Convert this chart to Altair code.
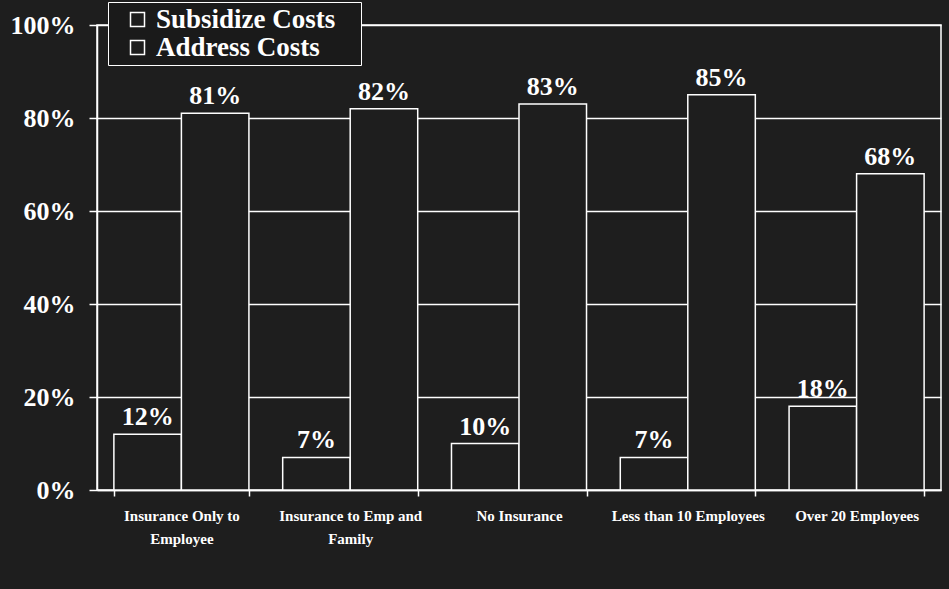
import altair as alt
import pandas as pd

categories = ["Insurance Only to|Employee", "Insurance to Emp and|Family", "No Insurance",
              "Less than 10 Employees", "Over 20 Employees"]
series = ["Subsidize Costs", "Address Costs"]
subsidize = [12, 7, 10, 7, 18]
address = [81, 82, 83, 85, 68]
y_ticks = [0, 20, 40, 60, 80, 100]

rows = []
for c, s, a in zip(categories, subsidize, address):
    rows.append({"cat": c, "series": series[0], "value": s})
    rows.append({"cat": c, "series": series[1], "value": a})
df = pd.DataFrame(rows)

BG = "#1e1e1e"
BAR = "#1e1e1e"
FONT = "Liberation Serif"
NBSP = "\u00a0"

x_enc = alt.X("cat:N", sort=categories, title=None,
              scale=alt.Scale(paddingInner=0.2, paddingOuter=0.1),
              axis=alt.Axis(labelExpr="split(datum.label, '|')", labelAngle=0,
                            labelFontSize=15, labelFont=FONT, labelFontWeight="bold",
                            labelColor="white", labelLineHeight=23, labelPadding=12,
                            tickBand="extent", tickSize=6, tickColor="white", tickWidth=1.5,
                            domainColor="white", domainWidth=1.5, grid=False))
xoff = alt.XOffset("series:N", sort=series)
y_enc = alt.Y("value:Q", title=None,
              scale=alt.Scale(domain=[0, 100], nice=False),
              axis=alt.Axis(values=y_ticks, labelExpr="datum.value + '%'",
                            labelFontSize=26, labelFont=FONT, labelFontWeight="bold",
                            labelColor="white", labelPadding=14,
                            tickSize=8, tickColor="white", tickWidth=1.5,
                            domainColor="white", domainWidth=1.5,
                            grid=True, gridColor="white", gridWidth=1.5))

bars = alt.Chart(df).mark_bar(stroke="white", strokeWidth=1.5).encode(
    x=x_enc, xOffset=xoff, y=y_enc,
    color=alt.Color("series:N", sort=series,
                    scale=alt.Scale(domain=series, range=[BAR, BAR]),
                    legend=alt.Legend(title=NBSP, titleOrient="right", titlePadding=22,
                                      titleFontSize=6, titleColor="white",
                                      orient="none", legendX=11, legendY=-23,
                                      direction="vertical",
                                      labelFont=FONT, labelFontSize=27, labelFontWeight="bold",
                                      labelColor="white", labelLimit=400,
                                      symbolType="square", symbolSize=196,
                                      symbolStrokeColor="white", symbolStrokeWidth=1.5,
                                      symbolFillColor=BAR, symbolOffset=12, labelOffset=5,
                                      padding=4, rowPadding=0,
                                      strokeColor="white", fillColor="#1a1a1a")),
)

texts = alt.Chart(df).mark_text(baseline="bottom", dy=-4, font=FONT, fontSize=26,
                                fontWeight="bold", color="white").encode(
    x=alt.X("cat:N", sort=categories), xOffset=xoff, y=alt.Y("value:Q"),
    text=alt.Text("label:N"),
).transform_calculate(label="datum.value + '%'")

chart = alt.layer(bars, texts).properties(
    width=844, height=465, background=BG,
    autosize=alt.AutoSizeParams(type="none"),
    padding={"left": 97, "top": 25, "right": 8, "bottom": 99},
).configure_view(stroke="white", strokeWidth=1.5)

chart.save("out.html", embed_options={"renderer": "svg", "actions": False})
